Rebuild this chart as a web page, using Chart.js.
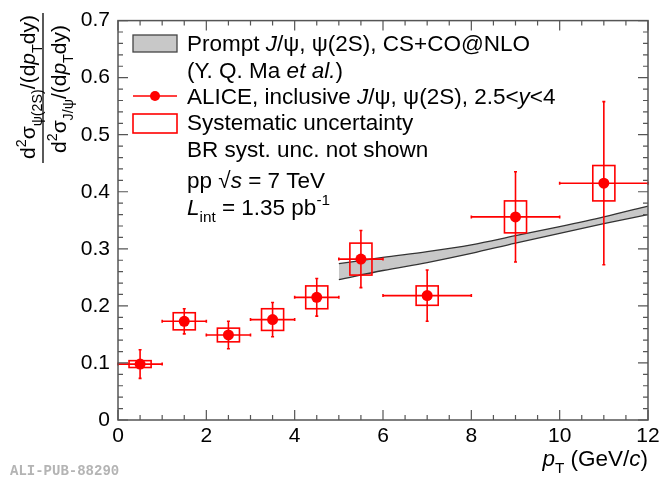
<!DOCTYPE html>
<html>
<head>
<meta charset="utf-8">
<title>psi(2S) / J/psi cross-section ratio</title>
<script src="https://cdn.jsdelivr.net/npm/chart.js@4.4.1/dist/chart.umd.min.js"></script>
<style>
  html, body { margin: 0; padding: 0; background: #fff; }
  #wrap { width: 660px; height: 478px; }
  canvas { display: block; }
</style>
</head>
<body>
<div id="wrap"><canvas id="ratioChart" width="660" height="478"></canvas></div>
<script>
// === Data ===

// pT bins (GeV/c)
const ptCenter = [0.5, 1.5, 2.5, 3.5, 4.5, 5.5, 7, 9, 11];
const ptLow = [0, 1, 2, 3, 4, 5, 6, 8, 10];
const ptHigh = [1, 2, 3, 4, 5, 6, 8, 10, 12];

// ALICE ratio with statistical and systematic uncertainties
const ratio = [0.098, 0.173, 0.149, 0.176, 0.215, 0.282, 0.218, 0.356, 0.415];
const statErr = [0.025, 0.022, 0.024, 0.030, 0.033, 0.050, 0.045, 0.079, 0.143];
const systErr = [0.006, 0.015, 0.012, 0.019, 0.020, 0.028, 0.017, 0.028, 0.031];
const systHalfWidth = 0.25;

// NLO prediction band
const bandPt = [5, 6, 7, 8, 9, 10, 11, 12];
const bandLow = [0.246, 0.262, 0.276, 0.292, 0.310, 0.327, 0.344, 0.360];
const bandHigh = [0.274, 0.285, 0.295, 0.307, 0.323, 0.339, 0.356, 0.375];

// axis ticks
const xTicks = [0, 2, 4, 6, 8, 10, 12];
const yTicks = [0, 0.1, 0.2, 0.3, 0.4, 0.5, 0.6, 0.7];

const FONT = '"Liberation Sans", Arial, Helvetica, sans-serif';
const RED = "#ff0000";
const SIZE = 21;        // tick labels and y title
const TEXT_SIZE = 22.5; // legend and x title

// === Text helper (italic / sub / sup runs) ===

function drawRich(ctx, runs, x, y, size, align) {
  const parts = runs.map(r => {
    const s = (r.sub || r.sup) ? size * 0.68 : size;
    const font = (r.i ? "italic " : "") + s + "px " + FONT;
    ctx.font = font;
    return { t: r.t, sub: r.sub, sup: r.sup, font, w: ctx.measureText(r.t).width };
  });
  const total = parts.reduce((a, p) => a + p.w, 0);
  let cx = x;
  if (align === "right") cx = x - total;
  if (align === "center") cx = x - total / 2;
  parts.forEach(p => {
    ctx.font = p.font;
    const dy = p.sub ? size * 0.32 : (p.sup ? -size * 0.42 : 0);
    ctx.fillText(p.t, cx, y + dy);
    cx += p.w;
  });
  return total;
}

// === Drawing pieces ===

function drawErrors(chart) {
  const { ctx, scales: { x, y } } = chart;
  ctx.save();
  ctx.strokeStyle = RED;
  ctx.lineWidth = 1.6;
  ptCenter.forEach((pt, i) => {
    const px = x.getPixelForValue(pt);
    const py = y.getPixelForValue(ratio[i]);
    const x0 = x.getPixelForValue(ptLow[i]);
    const x1 = x.getPixelForValue(ptHigh[i]);
    const y0 = y.getPixelForValue(ratio[i] - statErr[i]);
    const y1 = y.getPixelForValue(ratio[i] + statErr[i]);

    ctx.beginPath();
    ctx.moveTo(x0, py); ctx.lineTo(x1, py);
    ctx.moveTo(px, y0); ctx.lineTo(px, y1);
    // small end marks
    ctx.moveTo(x0, py - 1.5); ctx.lineTo(x0, py + 1.5);
    ctx.moveTo(x1, py - 1.5); ctx.lineTo(x1, py + 1.5);
    ctx.moveTo(px - 1.5, y0); ctx.lineTo(px + 1.5, y0);
    ctx.moveTo(px - 1.5, y1); ctx.lineTo(px + 1.5, y1);
    ctx.stroke();

    // systematic box
    const bx0 = x.getPixelForValue(pt - systHalfWidth);
    const bx1 = x.getPixelForValue(pt + systHalfWidth);
    const by0 = y.getPixelForValue(ratio[i] + systErr[i]);
    const by1 = y.getPixelForValue(ratio[i] - systErr[i]);
    ctx.strokeRect(bx0, by0, bx1 - bx0, by1 - by0);
  });
  ctx.restore();
}

function drawFrame(chart) {
  const { ctx, chartArea: a, scales: { x, y } } = chart;
  ctx.save();
  ctx.strokeStyle = "#555";
  ctx.lineWidth = 1.5;
  ctx.strokeRect(a.left, a.top, a.right - a.left, a.bottom - a.top);

  ctx.lineWidth = 1.2;
  ctx.beginPath();
  // x ticks: major every 2, minor every 0.5
  for (let k = 0; k <= 24; k++) {
    const px = x.getPixelForValue(k * 0.5);
    const len = k % 4 === 0 ? 10 : 5;
    ctx.moveTo(px, a.bottom); ctx.lineTo(px, a.bottom - len);
    ctx.moveTo(px, a.top); ctx.lineTo(px, a.top + len);
  }
  // y ticks: major every 0.1, minor every 0.02
  for (let k = 0; k <= 35; k++) {
    const py = y.getPixelForValue(k * 0.02);
    const len = k % 5 === 0 ? 10 : 5;
    ctx.moveTo(a.left, py); ctx.lineTo(a.left + len, py);
    ctx.moveTo(a.right, py); ctx.lineTo(a.right - len, py);
  }
  ctx.stroke();
  ctx.restore();
}

function drawTitles(chart) {
  const { ctx, chartArea: a } = chart;
  ctx.save();
  ctx.fillStyle = "#000";
  ctx.textBaseline = "alphabetic";

  // x title
  drawRich(ctx, [
    { t: "p", i: true }, { t: "T", sub: true }, { t: " (GeV/" }, { t: "c", i: true }, { t: ")" }
  ], a.right, 466, TEXT_SIZE, "right");

  // y title: fraction written bottom to top
  const num = [
    { t: "d" }, { t: "2", sup: true }, { t: "σ" }, { t: "ψ(2S)", sub: true },
    { t: "/(d" }, { t: "p", i: true }, { t: "T", sub: true }, { t: "dy)" }
  ];
  const den = [
    { t: "d" }, { t: "2", sup: true }, { t: "σ" }, { t: "J/ψ", sub: true },
    { t: "/(d" }, { t: "p", i: true }, { t: "T", sub: true }, { t: "dy)" }
  ];
  ctx.rotate(-Math.PI / 2);
  drawRich(ctx, num, -87, 35, SIZE, "center");
  drawRich(ctx, den, -89, 66, SIZE, "center");
  ctx.restore();

  ctx.save();
  ctx.strokeStyle = "#000";
  ctx.lineWidth = 1.3;
  ctx.beginPath();
  ctx.moveTo(43, 13);
  ctx.lineTo(43, 163);
  ctx.stroke();
  ctx.restore();
}

function drawLegend(chart) {
  const { ctx } = chart;
  ctx.save();

  // NLO band symbol
  ctx.fillStyle = "#c8c8c8";
  ctx.fillRect(133, 35, 44, 17);
  ctx.strokeStyle = "#444";
  ctx.lineWidth = 1.3;
  ctx.strokeRect(133, 35, 44, 17);

  // data symbol
  ctx.strokeStyle = RED;
  ctx.lineWidth = 1.6;
  ctx.beginPath();
  ctx.moveTo(133, 96); ctx.lineTo(177, 96);
  ctx.stroke();
  ctx.fillStyle = RED;
  ctx.beginPath();
  ctx.arc(155, 96, 5, 0, Math.PI * 2);
  ctx.fill();

  // systematic box symbol
  ctx.strokeRect(133, 114, 44, 19);

  ctx.fillStyle = "#000";
  ctx.textBaseline = "alphabetic";
  const tx = 187;
  drawRich(ctx, [{ t: "Prompt " }, { t: "J", i: true }, { t: "/ψ, ψ(2S), CS+CO@NLO" }], tx, 51, TEXT_SIZE);
  drawRich(ctx, [{ t: "(Y. Q. Ma " }, { t: "et al.", i: true }, { t: ")" }], tx, 78, TEXT_SIZE);
  drawRich(ctx, [{ t: "ALICE, inclusive " }, { t: "J", i: true }, { t: "/ψ, ψ(2S), 2.5<" }, { t: "y", i: true }, { t: "<4" }], tx, 104, TEXT_SIZE);
  drawRich(ctx, [{ t: "Systematic uncertainty" }], tx, 130, TEXT_SIZE);
  drawRich(ctx, [{ t: "BR syst. unc. not shown" }], tx, 156.5, TEXT_SIZE);
  drawRich(ctx, [{ t: "pp √" }, { t: "s", i: true }, { t: " = 7 TeV" }], tx, 187.5, TEXT_SIZE);
  drawRich(ctx, [{ t: "L", i: true }, { t: "int", sub: true }, { t: " = 1.35 pb" }, { t: "-1", sup: true }], tx, 214.5, TEXT_SIZE);
  ctx.restore();
}

function drawStamp(chart) {
  const { ctx } = chart;
  ctx.save();
  ctx.fillStyle = "#b4b4b4";
  ctx.font = 'bold 14px "Liberation Mono", "DejaVu Sans Mono", monospace';
  ctx.textBaseline = "alphabetic";
  ctx.fillText("ALI-PUB-88290", 10, 475);
  ctx.restore();
}

const rootStyle = {
  id: "rootStyle",
  beforeDatasetDraw(chart, args) {
    if (args.index === 2) drawErrors(chart);
  },
  afterDraw(chart) {
    drawFrame(chart);
    drawTitles(chart);
    drawLegend(chart);
    drawStamp(chart);
  }
};

// === Chart ===

function renderRatioChart() {
  const canvas = document.getElementById("ratioChart");
  if (!canvas) return null;

  return new Chart(canvas, {
    type: "scatter",
    data: {
      datasets: [
        {
          label: "NLO upper",
          type: "line",
          data: bandPt.map((v, i) => ({ x: v, y: bandHigh[i] })),
          borderColor: "#333",
          borderWidth: 1.3,
          backgroundColor: "#c8c8c8",
          fill: "+1",
          pointRadius: 0,
          cubicInterpolationMode: "monotone",
          order: 3
        },
        {
          label: "NLO lower",
          type: "line",
          data: bandPt.map((v, i) => ({ x: v, y: bandLow[i] })),
          borderColor: "#333",
          borderWidth: 1.3,
          fill: false,
          pointRadius: 0,
          cubicInterpolationMode: "monotone",
          order: 2
        },
        {
          label: "ALICE",
          data: ptCenter.map((v, i) => ({ x: v, y: ratio[i] })),
          pointRadius: 5.5,
          pointBackgroundColor: RED,
          pointBorderColor: RED,
          pointBorderWidth: 0,
          order: 1
        }
      ]
    },
    options: {
      responsive: false,
      animation: false,
      layout: { padding: { top: 13, right: 12, left: 0, bottom: 0 } },
      plugins: {
        legend: { display: false },
        tooltip: { enabled: false }
      },
      scales: {
        x: {
          type: "linear",
          min: 0,
          max: 12,
          afterBuildTicks: s => { s.ticks = xTicks.map(v => ({ value: v })); },
          afterFit: s => { s.height = 58; s.paddingLeft = 0; s.paddingRight = 0; },
          grid: { display: false, drawTicks: false },
          border: { display: false },
          ticks: { font: { family: FONT, size: SIZE }, color: "#000", padding: 4, maxRotation: 0 }
        },
        y: {
          type: "linear",
          min: 0,
          max: 0.7,
          afterBuildTicks: s => { s.ticks = yTicks.map(v => ({ value: v })); },
          afterFit: s => { s.width = 118; },
          grid: { display: false, drawTicks: false },
          border: { display: false },
          ticks: { font: { family: FONT, size: SIZE }, color: "#000", padding: 8 }
        }
      }
    },
    plugins: [rootStyle]
  });
}

document.addEventListener("DOMContentLoaded", () => {
  renderRatioChart();
});
</script>
</body>
</html>
